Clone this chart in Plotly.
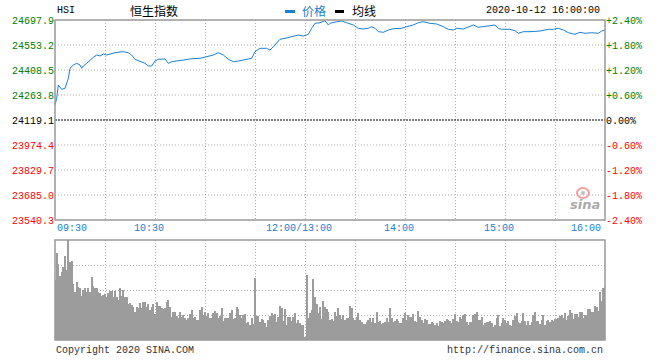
import plotly.graph_objects as go

# ---------------- data ----------------
prev_close = 24119.1
price_ticks = [24697.9, 24553.2, 24408.5, 24263.8, 24119.1, 23974.4, 23829.7, 23685.0, 23540.3]
pct_ticks = [2.4, 1.8, 1.2, 0.6, 0.0, -0.6, -1.2, -1.8, -2.4]
pct_labels = ["+2.40%", "+1.80%", "+1.20%", "+0.60%", "0.00%", "-0.60%", "-1.20%", "-1.80%", "-2.40%"]

time_ticks = ["09:30", "10:30", "12:00", "14:00", "15:00", "16:00"]
time_tick_labels = ["09:30", "10:30", "12:00/13:00", "14:00", "15:00", "16:00"]

times = ["09:30", "09:31", "09:32", "09:33", "09:34", "09:36", "09:38", "09:39", "09:41", "09:43",
         "09:45", "09:46", "09:47", "09:49", "09:50", "09:51", "09:53", "09:55", "09:57", "09:59",
         "10:01", "10:06", "10:11", "10:14", "10:16", "10:18", "10:21", "10:24", "10:26", "10:28",
         "10:30", "10:32", "10:36", "10:38", "10:40", "10:43", "10:47", "10:52", "10:57", "11:01",
         "11:05", "11:08", "11:11", "11:14", "11:17", "11:20", "11:25", "11:28", "11:30", "11:33",
         "11:37", "11:39", "11:41", "11:43", "11:45", "11:48", "11:50", "11:53", "11:56", "11:59",
         "13:02", "13:04", "13:06", "13:09", "13:12", "13:14", "13:15", "13:19", "13:22", "13:25",
         "13:29", "13:32", "13:35", "13:38", "13:40", "13:42", "13:44", "13:47", "13:50", "13:53",
         "13:58", "14:01", "14:05", "14:08", "14:11", "14:15", "14:19", "14:23", "14:26", "14:29",
         "14:31", "14:35", "14:39", "14:41", "14:44", "14:47", "14:50", "14:54", "14:56", "14:58",
         "15:03", "15:06", "15:08", "15:11", "15:15", "15:21", "15:26", "15:29", "15:32", "15:35",
         "15:38", "15:42", "15:45", "15:48", "15:52", "15:56", "15:58", "16:00"]
prices = [24205.9, 24244.7, 24321.7, 24308.4, 24296.8, 24302.6, 24360.5, 24418.3, 24437.4, 24447.3,
          24437.4, 24418.3, 24431.7, 24447.3, 24456.5, 24460.6, 24482.0, 24495.3, 24489.5, 24501.1,
          24495.3, 24508.6, 24514.4, 24508.6, 24495.3, 24470.4, 24460.6, 24447.3, 24431.7, 24431.7,
          24460.6, 24470.4, 24472.2, 24447.3, 24456.5, 24462.3, 24466.4, 24473.9, 24476.0, 24485.5,
          24495.3, 24508.6, 24495.3, 24470.4, 24456.5, 24460.6, 24472.2, 24476.0, 24514.4, 24534.1,
          24534.1, 24524.3, 24543.4, 24563.0, 24586.2, 24592.0, 24597.8, 24605.3, 24611.1, 24605.3,
          24615.1, 24649.9, 24678.8, 24682.3, 24693.9, 24669.0, 24678.8, 24688.1, 24692.1, 24682.3,
          24669.0, 24649.9, 24645.8, 24649.9, 24659.1, 24649.9, 24630.2, 24626.7, 24640.0, 24647.5,
          24649.9, 24659.1, 24669.0, 24682.3, 24688.1, 24678.8, 24674.7, 24659.1, 24644.1, 24640.0,
          24649.9, 24645.8, 24659.1, 24669.0, 24655.6, 24659.1, 24664.9, 24669.0, 24649.9, 24644.1,
          24644.1, 24636.0, 24620.9, 24630.2, 24630.2, 24634.2, 24644.1, 24644.1, 24649.9, 24640.0,
          24624.4, 24615.1, 24626.7, 24620.9, 24624.4, 24620.9, 24634.2, 24640.0]

# one volume bar per trading minute (09:30 .. 16:00), relative units
volumes = [60, 87, 76, 64, 68, 73, 84, 70, 100, 78, 79, 56, 48, 58, 53, 52, 44, 50, 52, 48,
           52, 48, 63, 54, 52, 52, 48, 47, 44, 45, 46, 43, 47, 49, 49, 43, 49, 43, 40, 52,
           44, 50, 43, 43, 36, 37, 35, 33, 28, 33, 32, 37, 32, 38, 38, 33, 36, 30, 33, 36,
           26, 38, 34, 34, 32, 31, 32,
           38, 40, 33, 23, 28, 28, 24, 22, 28, 23, 25, 22, 20, 22, 26, 30, 22, 23, 20, 20,
           30, 33, 25, 28, 24, 27, 22, 22, 27, 29, 27, 22, 24, 32, 19, 22, 22, 22, 27, 30,
           21, 22, 33, 31, 25, 22, 25, 26, 17, 18, 15, 22, 16, 62, 24, 24, 18, 21, 20, 17,
           13, 20, 24, 27, 25, 26,
           18, 23, 34, 32, 19, 31, 15, 23, 23, 19, 23, 27, 17, 20, 17, 15, 15, 3, 65, 22,
           27, 30, 61, 43, 36, 27, 33, 21, 39, 33, 31, 28, 20, 21, 19, 28, 24, 32, 25, 21,
           25, 20, 22, 22, 34, 32, 22, 20, 23, 27, 20, 18, 16, 16, 18, 20, 22, 18, 22, 17,
           28, 18, 19, 16, 17, 18,
           22, 18, 32, 22, 18, 19, 21, 19, 17, 17, 22, 27, 20, 25, 23, 23, 26, 19, 18, 29,
           23, 20, 17, 21, 20, 16, 16, 18, 17, 15, 17, 14, 19, 18, 17, 19, 21, 20, 19, 17,
           21, 26, 19, 18, 23, 21, 25, 26, 18, 15, 18, 18, 25, 26, 28, 20, 20, 23, 15, 17,
           18, 18, 19, 17, 13, 15,
           22, 25, 14, 17, 22, 20, 17, 19, 15, 14, 20, 24, 27, 18, 17, 19, 27, 19, 15, 19,
           15, 18, 25, 28, 19, 19, 16, 20, 25, 15, 19, 20, 18, 20, 19, 21, 21, 22, 24, 25,
           22, 27, 20, 24, 30, 27, 21, 26, 26, 23, 28, 28, 22, 25, 24, 31, 31, 28, 28, 34,
           33, 29, 48, 39, 52, 53]


def to_index(t):
    h, m = map(int, t.split(":"))
    mins = h * 60 + m
    return mins - 570 if mins <= 720 else mins - 780 + 150


price_x = [to_index(t) for t in times]
pct = [(p / prev_close - 1) * 100 for p in prices]
vol_x = list(range(len(volumes)))

# ---------------- styling ----------------
W, H = 660, 360
MONO = "Liberation Mono"
CJK = "Noto Sans CJK SC"
BLUE = "#1a80d2"
GREEN = "#008000"
RED = "#ff0000"
GRID = "#b0b0b0"
BORDER = "#999999"


def px(x):
    return x / W


def py(y):
    return 1 - y / H


def tick_color(v):
    if abs(v - prev_close) < 0.01:
        return "#000000"
    return GREEN if v > prev_close else RED


fig = go.Figure()
fig.add_trace(go.Scatter(x=price_x, y=prices, mode="lines", line=dict(color=BLUE, width=1),
                         xaxis="x", yaxis="y", hoverinfo="skip", showlegend=False))
fig.add_trace(go.Scatter(x=price_x, y=pct, mode="lines", line=dict(width=0), opacity=0,
                         xaxis="x", yaxis="y2", hoverinfo="skip", showlegend=False))
fig.add_trace(go.Bar(x=vol_x, y=volumes, width=0.42, marker=dict(color="#9c9c9c", line=dict(width=0)),
                     xaxis="x2", yaxis="y3", hoverinfo="skip", showlegend=False))

xdom = [px(55), px(605)]
fig.update_layout(
    width=W, height=H, margin=dict(l=0, r=0, t=0, b=0, autoexpand=False),
    paper_bgcolor="white", plot_bgcolor="white", showlegend=False,
    xaxis=dict(domain=xdom, range=[0, 330], anchor="y", tick0=0, dtick=30, automargin=False,
               showgrid=True, gridcolor=GRID, griddash="1px,2px", gridwidth=1,
               showticklabels=False, zeroline=False, showline=False, ticks=""),
    yaxis=dict(domain=[py(220), py(20)], range=[price_ticks[-1], price_ticks[0]], anchor="x",
               tickvals=price_ticks, automargin=False,
               ticktext=[f'<span style="color:{tick_color(v)}">{v:.1f}</span>' for v in price_ticks],
               tickfont=dict(family=MONO, size=10), showgrid=False, zeroline=False,
               showline=False, ticks=""),
    yaxis2=dict(overlaying="y", side="right", anchor="x", range=[-2.4, 2.4], automargin=False,
                tickvals=pct_ticks,
                ticktext=[f'<span style="color:{"#000000" if v == 0 else (GREEN if v > 0 else RED)}">{lab}</span>'
                          for v, lab in zip(pct_ticks, pct_labels)],
                tickfont=dict(family=MONO, size=10), showgrid=False, zeroline=False,
                showline=False, ticks=""),
    xaxis2=dict(domain=xdom, range=[0, 330], anchor="y3", tick0=0, dtick=30, automargin=False,
                showgrid=True, gridcolor=GRID, griddash="1px,2px", gridwidth=1,
                showticklabels=False, zeroline=False, showline=False, ticks=""),
    yaxis3=dict(domain=[py(340), py(240)], range=[0, 100], anchor="x2", automargin=False,
                tickvals=[25, 50, 75], showgrid=True, gridcolor=GRID, griddash="1px,2px",
                showticklabels=False, zeroline=False, showline=False, ticks=""),
    bargap=0,
)

# horizontal grid lines of the price panel
for v in price_ticks[1:-1]:
    if abs(v - prev_close) < 0.01:
        continue
    fig.add_shape(type="line", xref="x domain", yref="y", x0=0, x1=1, y0=v, y1=v,
                  line=dict(color=GRID, width=1, dash="1px,2px"), layer="below")
# previous close line
fig.add_shape(type="line", xref="x domain", yref="y", x0=0, x1=1, y0=prev_close, y1=prev_close,
              line=dict(color="#000000", width=1, dash="2px,1px"))

# panel borders
for top, bot in [(20, 220), (240, 340)]:
    fig.add_shape(type="rect", xref="paper", yref="paper", x0=px(55), x1=px(605),
                  y0=py(bot), y1=py(top), line=dict(color=BORDER, width=1.5))

# time labels
for t, lab in zip(time_ticks, time_tick_labels):
    xi = to_index(t)
    if xi == 0:
        anchor, shift = "left", 0
    elif xi == 330:
        anchor, shift = "right", -2
    else:
        anchor, shift = "center", -6
    fig.add_annotation(x=xi, xref="x", y=py(228), yref="paper", text=lab, showarrow=False,
                       xanchor=anchor, yanchor="middle", xshift=shift,
                       font=dict(family=MONO, size=10, color=BLUE))

# header
fig.add_annotation(x=px(55), y=py(10), xref="paper", yref="paper", text="HSI", showarrow=False,
                   xanchor="left", yanchor="middle", font=dict(family=MONO, size=10, color="#000"))
fig.add_annotation(x=px(154), y=py(10), xref="paper", yref="paper", text="恒生指数", showarrow=False,
                   xanchor="center", yanchor="middle", font=dict(family=CJK, size=12, color="#000"))
fig.add_shape(type="rect", xref="paper", yref="paper", x0=px(285), x1=px(295), y0=py(13), y1=py(10),
              fillcolor=BLUE, line=dict(width=0))
fig.add_annotation(x=px(300), y=py(10), xref="paper", yref="paper", text="价格", showarrow=False,
                   xanchor="left", yanchor="middle", font=dict(family=CJK, size=12, color=BLUE))
fig.add_shape(type="rect", xref="paper", yref="paper", x0=px(335), x1=px(344), y0=py(13), y1=py(10),
              fillcolor="#000", line=dict(width=0))
fig.add_annotation(x=px(350), y=py(10), xref="paper", yref="paper", text="均线", showarrow=False,
                   xanchor="left", yanchor="middle", font=dict(family=CJK, size=12, color="#000"))
fig.add_annotation(x=px(602), y=py(10), xref="paper", yref="paper", text="2020-10-12 16:00:00",
                   showarrow=False, xanchor="right", yanchor="middle",
                   font=dict(family=MONO, size=10, color="#000"))

# footer
fig.add_annotation(x=px(54), y=py(350), xref="paper", yref="paper", text="Copyright 2020 SINA.COM",
                   showarrow=False, xanchor="left", yanchor="middle",
                   font=dict(family=MONO, size=10, color="#333"))
fig.add_annotation(x=px(605), y=py(350), xref="paper", yref="paper", text="http://finance.sina.com.cn",
                   showarrow=False, xanchor="right", yanchor="middle",
                   font=dict(family=MONO, size=10, color="#333"))

# sina watermark
fig.add_shape(type="circle", xref="paper", yref="paper", x0=px(577), x1=px(589), y0=py(198), y1=py(188),
              line=dict(color="#f4a0a0", width=2))
fig.add_shape(type="circle", xref="paper", yref="paper", x0=px(581), x1=px(585), y0=py(195), y1=py(191),
              fillcolor="#c0c0c0", line=dict(width=0))
fig.add_annotation(x=px(585), y=py(204), xref="paper", yref="paper", text="sina", showarrow=False,
                   xanchor="center", yanchor="middle",
                   font=dict(family="DejaVu Sans", size=13, color="#aaaaaa", style="italic", weight="bold"))

fig.write_html("out.html", config={"displayModeBar": False},
               post_script="document.body.style.margin='0';document.body.style.padding='0';"
                           "document.body.style.overflow='hidden';"
                           "document.querySelectorAll('.bars path').forEach(function(p){"
                           "p.style.shapeRendering='crispEdges';});")
